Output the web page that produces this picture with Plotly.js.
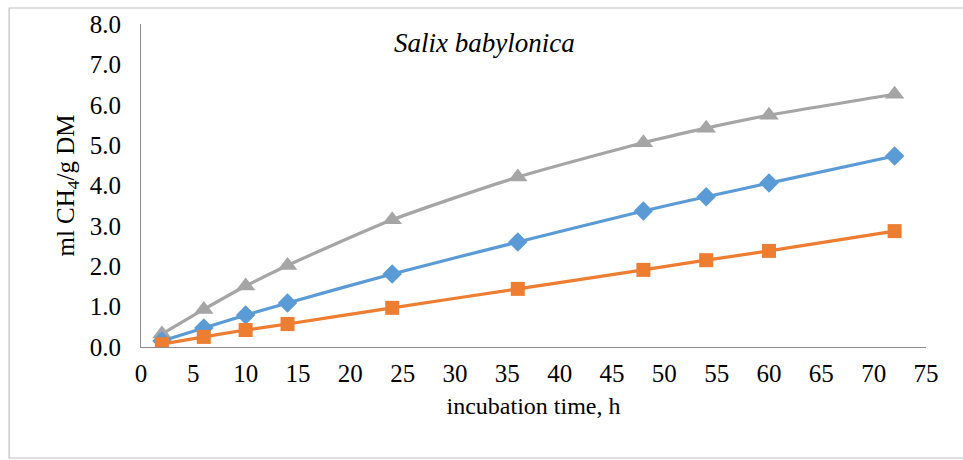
<!DOCTYPE html>
<html>
<head>
<meta charset="utf-8">
<script src="https://cdn.plot.ly/plotly-3.0.1.min.js"></script>
<style>html,body{margin:0;padding:0;background:#fff;}#chart{width:963px;height:460px;}</style>
</head>
<body>
<div id="chart"></div>
<script>
const hours = [2, 6, 10, 14, 24, 36, 48, 54, 60, 72];
const seriesBlue = [0.15, 0.47, 0.79, 1.09, 1.81, 2.60, 3.37, 3.72, 4.06, 4.73];
const seriesOrange = [0.07, 0.25, 0.42, 0.57, 0.97, 1.44, 1.91, 2.15, 2.38, 2.87];
const seriesGray = [0.32, 0.93, 1.51, 2.02, 3.15, 4.21, 5.06, 5.42, 5.74, 6.26];
const chartTitle = 'Salix babylonica';
const xTitle = 'incubation time, h';
const yTitle = 'ml CH<sub>4</sub>/g DM';

const font = 'Liberation Serif';

function tr(y, color, symbol, size) {
  return {
    x: hours, y: y, type: 'scatter', mode: 'lines+markers',
    line: {color: color, width: 3.2, shape: 'spline', smoothing: 0.6},
    marker: {color: color, symbol: symbol, size: size},
    hoverinfo: 'x+y', showlegend: false
  };
}

const data = [
  tr(seriesGray, '#A5A5A5', 'triangle-up', 17),
  tr(seriesBlue, '#5B9BD5', 'diamond', 15),
  tr(seriesOrange, '#ED7D31', 'square', 14)
];

const layout = {
  width: 963, height: 460,
  margin: {l: 141, r: 37, t: 24, b: 113},
  paper_bgcolor: '#fff', plot_bgcolor: '#fff',
  font: {family: font, size: 24, color: '#000'},
  xaxis: {
    range: [0, 75], dtick: 5, tick0: 0, showgrid: false, zeroline: false,
    showline: true, linecolor: '#8c8c8c', linewidth: 1, ticks: '',
    ticklabelstandoff: 4,
    tickfont: {family: font, size: 25, color: '#000'},
    title: {text: xTitle, font: {family: font, size: 24, color: '#000'}, standoff: 11}
  },
  yaxis: {
    range: [0, 8], dtick: 1, tick0: 0, tickformat: '.1f', showgrid: false, zeroline: false,
    showline: true, linecolor: '#8c8c8c', linewidth: 1, ticks: '',
    ticklabelstandoff: 14,
    tickfont: {family: font, size: 25, color: '#000'},
    title: {text: yTitle, font: {family: font, size: 25, color: '#000'}, standoff: 8}
  },
  annotations: [{
    text: chartTitle, xref: 'paper', yref: 'paper', x: 0.32, y: 0.94,
    xanchor: 'left', yanchor: 'middle', showarrow: false,
    font: {family: font, size: 27, color: '#000', style: 'italic'}
  }],
  shapes: [{
    type: 'rect', xref: 'paper', yref: 'paper',
    x0: -0.168, x1: 1.1, y0: -0.3437, y1: 1.0495,
    line: {color: '#bfbfbf', width: 1.2}, fillcolor: 'rgba(0,0,0,0)', layer: 'below'
  }]
};

Plotly.newPlot('chart', data, layout, {displayModeBar: false, staticPlot: true});
</script>
</body>
</html>
